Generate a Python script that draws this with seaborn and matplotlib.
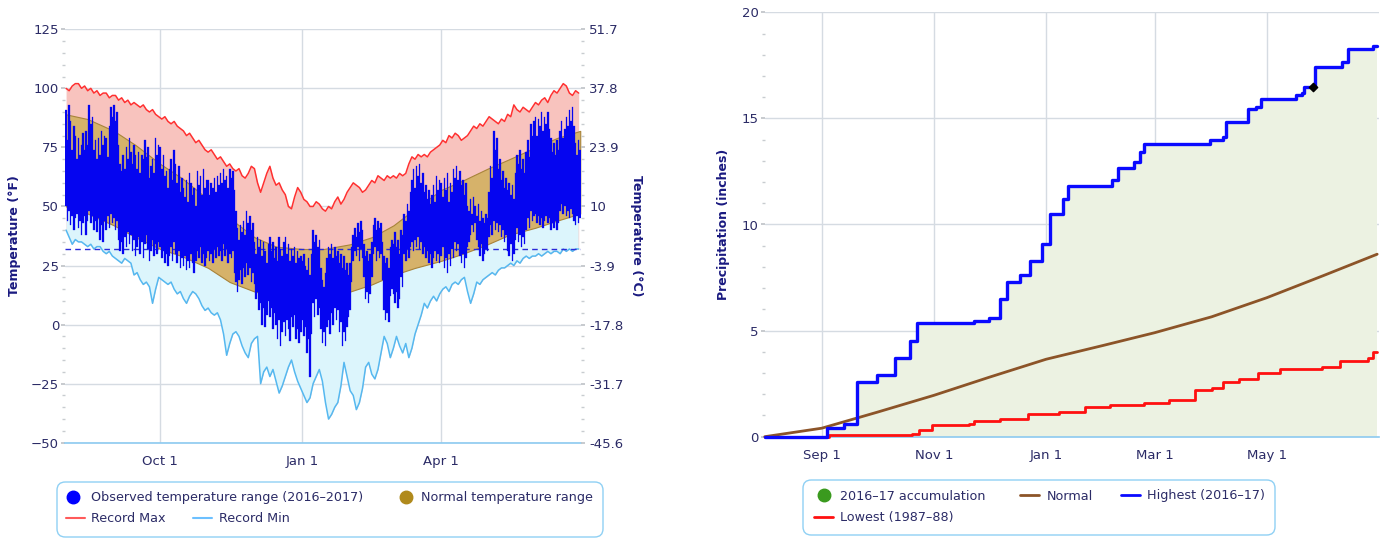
import numpy as np
import pandas as pd
import matplotlib
matplotlib.use("Agg")
import matplotlib.pyplot as plt
from matplotlib.patches import FancyBboxPatch
from matplotlib.lines import Line2D
from matplotlib.ticker import MultipleLocator
import seaborn as sns

sns.set_theme(style="white")
plt.rcParams["font.family"] = ["DejaVu Sans"]

# ------------------------------------------------------------------ data
obs_start = "2016-08-01"
# daily observed highs / lows (deg F), Aug 1 2016 .. Jun 30 2017
obs_high = (
    [91, 78, 93, 86, 74, 84, 80, 70, 79, 72, 76, 81, 74, 82, 76, 93, 85, 88, 74, 78,
     70, 79, 72, 82, 76, 80, 79, 71, 84, 92, 88] +                                  # Aug
    [93, 86, 90, 76, 68, 65, 72, 66, 75, 70, 79, 73, 68, 76, 72, 66, 73, 64, 72, 70,
     78, 71, 75, 62, 67, 70, 64, 79, 72, 76] +                                      # Sep
    [75, 66, 72, 63, 65, 58, 66, 70, 61, 74, 68, 60, 67, 56, 62, 58, 54, 61, 52, 64,
     60, 55, 58, 50, 65, 59, 63, 55, 66, 58, 61] +                                  # Oct
    [61, 55, 60, 58, 62, 56, 63, 59, 64, 60, 66, 61, 63, 58, 66, 62, 65, 57, 48, 41,
     36, 42, 39, 44, 38, 48, 43, 46, 40, 43] +                                      # Nov
    [35, 30, 37, 33, 36, 29, 35, 31, 26, 34, 37, 31, 35, 28, 33, 27, 37, 32, 29, 35,
     37, 30, 34, 27, 32, 29, 33, 26, 31, 28, 29] +                                  # Dec
    [27, 30, 25, 23, 28, 21, 30, 40, 35, 38, 33, 36, 24, 19, 16, 22, 28, 33, 30, 34,
     28, 33, 29, 31, 26, 30, 24, 29, 23, 26, 21] +                                  # Jan
    [26, 33, 38, 41, 37, 43, 39, 44, 40, 34, 29, 31, 27, 30, 35, 42, 45, 40, 44, 41,
     43, 35, 29, 26, 28, 24, 33, 36] +                                              # Feb
    [34, 39, 33, 36, 30, 40, 38, 47, 44, 51, 48, 56, 61, 66, 58, 67, 63, 68, 60, 64,
     56, 59, 53, 57, 51, 55, 59, 52, 63, 57, 61] +                                  # Mar
    [60, 54, 62, 57, 64, 52, 60, 56, 66, 62, 67, 61, 65, 59, 61, 55, 60, 50, 48, 53,
     47, 54, 50, 46, 51, 44, 48, 45, 43, 47] +                                      # Apr
    [45, 56, 67, 62, 82, 74, 79, 66, 70, 61, 65, 58, 62, 57, 60, 55, 59, 53, 64, 72,
     68, 74, 66, 70, 64, 73, 78, 71, 85, 80, 86] +                                  # May
    [88, 80, 87, 84, 90, 82, 88, 85, 90, 83, 79, 73, 77, 72, 78, 74, 82, 86, 79, 83,
     88, 84, 91, 86, 92, 84, 77, 72, 78, 74]                                        # Jun
)
obs_low = (
    [50, 44, 48, 42, 46, 40, 45, 47, 41, 44, 38, 43, 46, 38, 44, 48, 43, 46, 40, 44,
     39, 45, 36, 42, 35, 44, 40, 46, 41, 47, 43] +
    [45, 40, 44, 36, 31, 35, 30, 37, 33, 39, 34, 38, 31, 36, 29, 33, 37, 30, 35, 28,
     34, 38, 32, 27, 31, 36, 29, 34, 30, 35] +
    [33, 28, 31, 26, 30, 25, 29, 33, 27, 35, 30, 26, 31, 24, 28, 25, 29, 23, 27, 24,
     30, 26, 22, 27, 31, 28, 33, 26, 30, 25, 28] +
    [31, 27, 30, 26, 32, 28, 33, 29, 31, 27, 34, 29, 32, 26, 30, 28, 31, 22, 18, 14,
     19, 23, 17, 24, 20, 26, 21, 24, 18, 22] +
    [17, 11, 14, 6, 9, 0, 7, -1, 4, 10, 3, 7, -2, 5, 0, -6, 2, -9, -3, 1,
     -5, 2, -2, -7, 3, -1, 4, -6, -2, -8, -3] +
    [2, -5, -1, -12, -6, -22, -4, 9, 3, 11, 4, 7, -2, -8, -3, -9, -1, 2, -4, 5,
     0, 7, 2, 6, -3, 1, -9, -3, -7, -1, 3] +
    [6, 18, 27, 31, 29, 33, 27, 32, 28, 20, 11, 14, 9, 13, 20, 30, 33, 27, 31, 28,
     30, 19, 6, 2, 5, 1, 12, 15] +
    [13, 9, 14, 7, 11, 20, 16, 30, 27, 32, 28, 33, 35, 31, 36, 33, 37, 32, 35, 30,
     33, 28, 31, 26, 30, 24, 28, 31, 27, 30, 26] +
    [29, 33, 24, 28, 22, 30, 25, 32, 28, 35, 31, 34, 29, 26, 30, 24, 28, 33, 35, 38,
     42, 39, 43, 36, 33, 29, 34, 27, 30, 32] +
    [31, 37, 42, 38, 44, 40, 43, 39, 42, 37, 40, 35, 38, 31, 29, 34, 27, 30, 36, 41,
     35, 38, 33, 37, 34, 40, 45, 41, 48, 44, 46] +
    [47, 43, 46, 42, 45, 41, 44, 46, 43, 45, 40, 43, 41, 44, 40, 43, 48, 51, 47, 50,
     46, 48, 45, 49, 47, 44, 42, 46, 43, 45]
)
# record max / min (deg F), every second day from Aug 1 2016
rec_max = [
    100, 99, 101, 102, 102, 100, 101, 99, 100, 98, 99, 97, 98, 98, 96, 97,
    97, 95, 96, 94, 95, 93, 94, 93, 92, 93, 91, 90, 91, 89, 88,
    87, 88, 86, 85, 86, 84, 83, 82, 80, 81, 79, 77, 78, 76, 74,
    73, 74, 72, 70, 71, 69, 67, 68, 66, 65, 66, 63, 62, 64, 67,
    66, 60, 56, 60, 64, 67, 62, 59, 60, 57, 55, 50, 49, 54, 58,
    56, 53, 52, 50, 50, 52, 51, 49, 48, 50, 49, 52, 54, 51, 53,
    56, 58, 60, 59, 58, 56, 57, 59, 61, 60, 63, 62, 61, 63, 62,
    63, 62, 64, 63, 64, 68, 71, 70, 72, 71, 72, 71, 73, 74, 75,
    76, 78, 77, 80, 79, 81, 80, 78, 79, 80, 82, 84, 83, 85, 84,
    86, 88, 87, 86, 85, 87, 86, 89, 88, 93, 91, 90, 92, 91, 90,
    92, 94, 93, 95, 96, 94, 97, 99, 98, 100, 102, 101, 98, 97, 99,
    98,
]
rec_min = [
    40, 37, 34, 36, 35, 35, 34, 33, 34, 32, 33, 33, 31, 30, 31, 29,
    28, 27, 26, 28, 27, 26, 21, 22, 19, 17, 18, 16, 9, 15, 20,
    19, 18, 17, 18, 15, 13, 14, 11, 9, 12, 14, 13, 11, 8, 6,
    7, 5, 4, 5, 2, -4, -13, -8, -4, -3, -5, -9, -12, -14, -8,
    -6, -5, -25, -20, -18, -22, -19, -24, -29, -26, -22, -18, -15, -20, -24,
    -27, -30, -33, -31, -25, -22, -19, -24, -33, -40, -38, -35, -33, -26, -16,
    -22, -28, -30, -36, -33, -27, -18, -16, -21, -23, -19, -12, -5, -8, -14,
    -10, -5, -9, -12, -8, -14, -10, -4, 0, 4, 9, 7, 10, 12, 10,
    13, 15, 16, 14, 17, 18, 17, 19, 20, 14, 9, 13, 18, 17, 19,
    20, 21, 22, 21, 23, 24, 24, 25, 26, 25, 27, 26, 28, 29, 28,
    29, 29, 30, 29, 30, 31, 30, 31, 31, 30, 32, 31, 32, 31, 32,
    32,
]
normal_dates = ["2016-08-01", "2016-08-15", "2016-09-01", "2016-09-15", "2016-10-01",
                "2016-10-15", "2016-11-01", "2016-11-15", "2016-12-01", "2016-12-15",
                "2017-01-01", "2017-01-15", "2017-02-01", "2017-02-15", "2017-03-01",
                "2017-03-15", "2017-04-01", "2017-04-15", "2017-05-01", "2017-05-15",
                "2017-06-01", "2017-06-15", "2017-06-30"]
normal_high = [89, 87, 82, 76, 68, 62, 53, 45, 37, 33, 32, 32, 34, 37, 42, 49, 57, 61,
               66, 70, 75, 79, 82]
normal_low = [50, 47, 42, 37, 32, 29, 24, 18, 14, 12, 11.5, 12, 14, 17, 21, 24, 27, 30,
              34, 38, 41, 44, 47]
freezing_f = 32
temp_f_ticks = [-50, -25, 0, 25, 50, 75, 100, 125]
temp_c_labels = ["-45.6", "-31.7", "-17.8", "-3.9", "10", "23.9", "37.8", "51.7"]
temp_xtick_dates = ["2016-10-01", "2017-01-01", "2017-04-01"]
temp_xtick_labels = ["Oct 1", "Jan 1", "Apr 1"]

# precipitation (inches), cumulative
precip_high_dates = ["2016-08-01", "2016-09-04", "2016-09-13", "2016-09-20", "2016-10-01",
                     "2016-10-11", "2016-10-19", "2016-10-23", "2016-11-23", "2016-12-01",
                     "2016-12-07", "2016-12-11", "2016-12-18", "2016-12-23", "2016-12-30",
                     "2017-01-03", "2017-01-10", "2017-01-13", "2017-02-06", "2017-02-09",
                     "2017-02-18", "2017-02-21", "2017-02-23", "2017-03-31", "2017-04-07",
                     "2017-04-09", "2017-04-21", "2017-04-25", "2017-04-28", "2017-05-17",
                     "2017-05-20", "2017-05-21", "2017-05-27", "2017-06-11", "2017-06-14",
                     "2017-06-28", "2017-06-30"]
precip_high_vals = [0, 0.4, 0.6, 2.6, 2.9, 3.7, 4.5, 5.35, 5.45, 5.6, 6.5, 7.3, 7.6, 8.3,
                    9.1, 10.5, 11.2, 11.8, 12.1, 12.65, 12.95, 13.4, 13.8, 14.0, 14.1,
                    14.85, 15.45, 15.55, 15.9, 16.1, 16.2, 16.5, 17.4, 17.65, 18.25,
                    18.4, 18.4]
precip_low_dates = ["2016-08-01", "2016-09-05", "2016-10-20", "2016-10-24", "2016-10-31",
                    "2016-11-20", "2016-11-23", "2016-12-07", "2016-12-22", "2017-01-08",
                    "2017-01-22", "2017-02-05", "2017-02-23", "2017-03-09", "2017-03-23",
                    "2017-04-01", "2017-04-07", "2017-04-16", "2017-04-26", "2017-05-08",
                    "2017-05-31", "2017-06-10", "2017-06-25", "2017-06-28", "2017-06-30"]
precip_low_vals = [0, 0.1, 0.15, 0.3, 0.55, 0.6, 0.75, 0.85, 1.05, 1.15, 1.4, 1.5, 1.6,
                   1.75, 2.2, 2.3, 2.6, 2.7, 3.0, 3.2, 3.3, 3.55, 3.7, 4.0, 4.0]
precip_norm_dates = ["2016-08-01", "2016-09-01", "2016-10-01", "2016-11-01", "2016-12-01",
                     "2017-01-01", "2017-02-01", "2017-03-01", "2017-04-01", "2017-05-01",
                     "2017-06-01", "2017-06-30"]
precip_norm_vals = [0, 0.4, 1.15, 1.95, 2.8, 3.65, 4.3, 4.9, 5.65, 6.55, 7.6, 8.6]
precip_marker_date = "2017-05-26"
precip_marker_val = 16.5
precip_yticks = [0, 5, 10, 15, 20]
precip_xtick_dates = ["2016-09-01", "2016-11-01", "2017-01-01", "2017-03-01", "2017-05-01"]
precip_xtick_labels = ["Sep 1", "Nov 1", "Jan 1", "Mar 1", "May 1"]

# ------------------------------------------------------------------ style
TICK_C = "#2b2b66"
TITLE_C = "#1a1a80"
GRID_C = "#d5dbe2"
AXIS_C = "#8ccaf0"
W, H = 1380, 540

fig = plt.figure(figsize=(13.8, 5.4), dpi=100)


def style_axes(ax):
    ax.grid(True, which="major", color=GRID_C, lw=1)
    ax.set_axisbelow(True)
    for s in ["top", "right", "left"]:
        ax.spines[s].set_visible(False)
    ax.spines["bottom"].set_color(AXIS_C)
    ax.spines["bottom"].set_linewidth(1.2)
    ax.tick_params(axis="y", which="major", length=3, color="#c0c4c8", labelsize=9.5,
                   labelcolor=TICK_C, pad=1.5, left=True)
    ax.tick_params(axis="y", which="minor", length=2, color="#c8ccd0", left=True)
    ax.tick_params(axis="x", length=0, labelsize=9.5, labelcolor=TICK_C, pad=9)


# ------------------------------------------------------------------ temperature
obs_dates = pd.date_range(obs_start, periods=len(obs_high), freq="D")
rec_dates = pd.date_range(obs_start, periods=len(rec_max), freq="2D")
norm_dates = pd.to_datetime(normal_dates)

ax1 = fig.add_axes([65.3 / W, 1 - 442.7 / H, 515.7 / W, 413.4 / H])
rec_fill = ax1.fill_between(rec_dates, rec_min, rec_max, color="#f8c3be", lw=0, zorder=1)
cold = ax1.fill_between(norm_dates, normal_low, -60, color="#dcf5fc", lw=0, zorder=1.1)
cold.set_clip_path(rec_fill.get_paths()[0], transform=ax1.transData)
ax1.fill_between(norm_dates, normal_low, normal_high, facecolor="#d6b26a",
                 edgecolor="#a8843a", lw=0.8, zorder=1.2)
sns.lineplot(x=rec_dates, y=rec_max, ax=ax1, color="#ff3030", lw=1.1, zorder=2)
sns.lineplot(x=rec_dates, y=rec_min, ax=ax1, color="#55b8f0", lw=1.1, zorder=2)
ax1.axhline(freezing_f, color="#2a2ad8", lw=1, ls=(0, (4, 3)), zorder=2.5)
ax1.bar(obs_dates, np.array(obs_high) - np.array(obs_low), bottom=obs_low, width=1.0,
        color="#0505f0", edgecolor="#0505f0", lw=0.2, zorder=3)

ax1.set_xlim(pd.Timestamp("2016-07-31 12:00"), pd.Timestamp("2017-06-30 12:00"))
ax1.set_ylim(-50, 125)
ax1.set_yticks(temp_f_ticks)
ax1.yaxis.set_minor_locator(MultipleLocator(5))
ax1.set_xticks(pd.to_datetime(temp_xtick_dates))
ax1.set_xticklabels(temp_xtick_labels)
style_axes(ax1)
ax1.set_xlabel("")
ax1.set_ylabel("Temperature (°F)", fontsize=9, fontweight="bold", color=TITLE_C,
               labelpad=7)

ax1r = ax1.twinx()
ax1r.set_ylim(-50, 125)
ax1r.set_yticks(temp_f_ticks)
ax1r.set_yticklabels(temp_c_labels)
ax1r.yaxis.set_minor_locator(MultipleLocator(5))
for s in ["top", "right", "left", "bottom"]:
    ax1r.spines[s].set_visible(False)
ax1r.tick_params(axis="y", which="major", length=3, color="#c0c4c8", labelsize=9.5,
                 labelcolor=TICK_C, pad=3, right=True)
ax1r.tick_params(axis="y", which="minor", length=2, color="#c8ccd0", right=True)
ax1r.set_ylabel("Temperature (°C)", fontsize=9, fontweight="bold", color=TITLE_C,
                rotation=270, labelpad=14)

# ------------------------------------------------------------------ precipitation
ph_dates = pd.to_datetime(precip_high_dates)
pl_dates = pd.to_datetime(precip_low_dates)
pn_dates = pd.to_datetime(precip_norm_dates)

ax2 = fig.add_axes([764.7 / W, 1 - 436.7 / H, 614.3 / W, 424.4 / H])
ax2.fill_between(ph_dates, precip_high_vals, 0, step="post", color="#ecf2e2", lw=0, zorder=1)
sns.lineplot(x=pn_dates, y=precip_norm_vals, ax=ax2, color="#8c5428", lw=2, zorder=3,
             clip_on=False)
sns.lineplot(x=pl_dates, y=precip_low_vals, ax=ax2, color="#ff1010", lw=2,
             drawstyle="steps-post", zorder=3, clip_on=False)
sns.lineplot(x=ph_dates, y=precip_high_vals, ax=ax2, color="#0a0aff", lw=2.4,
             drawstyle="steps-post", zorder=4, clip_on=False)
ax2.scatter([pd.Timestamp(precip_marker_date)], [precip_marker_val], s=18, c="black",
            marker="D", zorder=5)
ax2.set_xlim(pd.Timestamp("2016-08-01"), pd.Timestamp("2017-07-01"))
ax2.set_ylim(0, 20)
ax2.set_yticks(precip_yticks)
ax2.yaxis.set_minor_locator(MultipleLocator(1))
ax2.set_xticks(pd.to_datetime(precip_xtick_dates))
ax2.set_xticklabels(precip_xtick_labels)
style_axes(ax2)
ax2.set_xlabel("")
ax2.set_ylabel("Precipitation (inches)", fontsize=9, fontweight="bold", color=TITLE_C,
               labelpad=8)

# ------------------------------------------------------------------ legends
LEG_FS = 9.2
FPX = LEG_FS * 100 / 72.0


def add_box(x0, y0, x1, y1):
    box = FancyBboxPatch((x0 / W, 1 - y1 / H), (x1 - x0) / W, (y1 - y0) / H,
                         boxstyle="round,pad=0,rounding_size=0.006",
                         mutation_aspect=W / H, transform=fig.transFigure,
                         fc="white", ec="#8fd0f4", lw=1.0, zorder=0)
    fig.add_artist(box)


def add_item(handle, label, x_handle, x_text, y, hlen_px=19):
    fig.legend([handle], [label], loc="center left",
               bbox_to_anchor=(x_handle / W, 1 - y / H), frameon=False,
               fontsize=LEG_FS, handlelength=hlen_px / FPX,
               handletextpad=(x_text - x_handle - hlen_px) / FPX,
               borderpad=0, borderaxespad=0, labelcolor=TICK_C)


def dot(c):
    return Line2D([], [], marker="o", ls="none", color=c, markersize=9)


def seg(c, lw=1.5):
    return Line2D([], [], color=c, lw=lw)


add_box(57, 482, 603, 537)
add_item(dot("#0000ff"), "Observed temperature range (2016–2017)", 63, 91, 498)
add_item(dot("#b08a1c"), "Normal temperature range", 396, 421, 498)
add_item(seg("#ff5a5a"), "Record Max", 66, 91, 519)
add_item(seg("#6cc0ff"), "Record Min", 193, 219, 519)

add_box(803, 480, 1275, 535)
add_item(dot("#3a9a1e"), "2016–17 accumulation", 815, 840, 496)
add_item(seg("#8c5428", 2), "Normal", 1020, 1047, 496)
add_item(seg("#0a0aff", 2), "Highest (2016–17)", 1121, 1147, 496)
add_item(seg("#ff1010", 2), "Lowest (1987–88)", 814, 840, 518)

fig.savefig("out.png", dpi=100)
